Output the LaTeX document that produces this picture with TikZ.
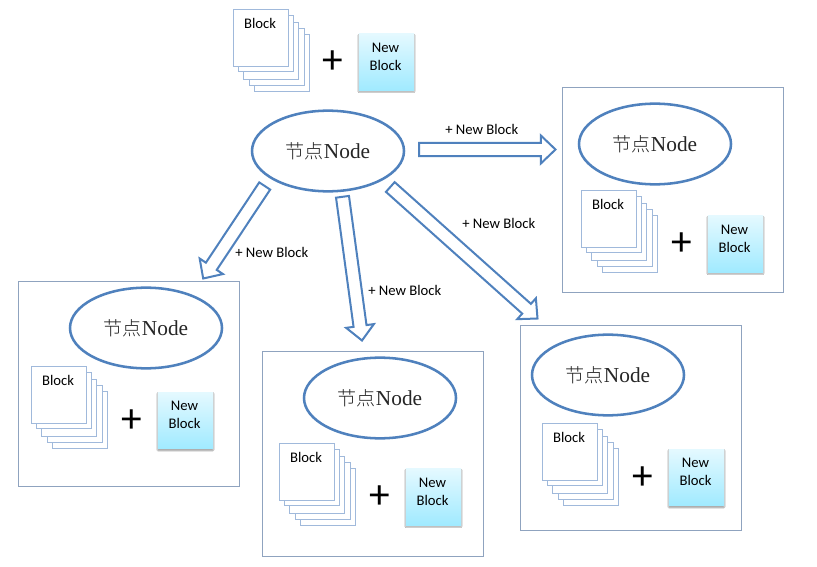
\documentclass[tikz,border=0pt]{standalone}
\usepackage{fontspec}
\setmainfont{Carlito}
\newfontfamily\nodecjk{Noto Sans CJK SC Light}
\newfontfamily\nodelatin{Liberation Serif}
\usetikzlibrary{calc,shadows.blur,shapes.geometric}
\definecolor{ringblue}{HTML}{4F81BD}
\definecolor{stackblue}{HTML}{A0B9DB}
\definecolor{framegray}{HTML}{8FA3BF}
\definecolor{newtop}{HTML}{E4F9FF}
\definecolor{newbot}{HTML}{A0EAFF}
\tikzset{
  x=0.75pt,y=-0.75pt,
  ringnode/.style={draw=ringblue,line width=1.9pt,ellipse,minimum width=114pt,minimum height=60.5pt,inner sep=0pt,text=black!85},
  sheet/.style={draw=stackblue,line width=0.75pt,fill=white,minimum width=41.5pt,minimum height=42.5pt,inner sep=0pt,anchor=north west},
  newbox/.style={minimum width=41.5pt,minimum height=42.5pt,inner sep=0pt,anchor=north west,top color=newtop,bottom color=newbot,draw=none,blur shadow={shadow xshift=0pt,shadow yshift=-0.9pt,shadow blur radius=0.7pt,shadow blur steps=4,shadow opacity=40}},
  newlabel/.style={align=center,inner sep=0pt,font=\fontsize{11}{13.5}\selectfont},
  blocklabel/.style={font=\fontsize{11}{13}\selectfont,inner sep=0pt},
  plusmark/.style={font=\fontsize{31}{31}\selectfont,inner sep=0pt},
  panel/.style={draw=framegray,line width=0.75pt,fill=white,minimum width=165.75pt,minimum height=153.75pt,inner sep=0pt,anchor=north west},
  hollowarrow/.style={draw=ringblue,line width=1.5pt,fill=white,line join=miter},
  arrowlabel/.style={font=\fontsize{11}{13}\selectfont,inner sep=0pt,anchor=west}
}
% #1 prefix, #2 x, #3 y, #4 dx and #5 dy of the plus and the new block
\newcommand{\stackgroup}[5]{%
  \node[sheet] (#1s4) at (#2+21,#3+25) {};
  \node[sheet] (#1s3) at (#2+15.6,#3+19.4) {};
  \node[sheet] (#1s2) at (#2+10,#3+13) {};
  \node[sheet] (#1s1) at (#2+5,#3+5.7) {};
  \node[sheet] (#1s0) at (#2,#3) {};
  \node[blocklabel] (#1bt) at (#2+27,#3+14) {Block};
  \node[plusmark] (#1plus) at (#2+100+#4,#3+53.5+#5) {+};
  \node[newbox] (#1new) at (#2+125.5+#4,#3+24.5+#5) {};
  \node[newlabel] (#1nt) at (#2+152.5+#4,#3+47.5+#5) {New\\Block};
}
\newcommand{\nodetext}{{\fontsize{14.3}{16}\selectfont\nodecjk 节点}{\fontsize{16}{16}\selectfont\nodelatin Node}}
% hollow block arrow from #1 to #2
\newcommand{\hollow}[2]{%
  \coordinate (hb) at ($(#2)!11pt!(#1)$);
  \draw[hollowarrow]
    ($(#1)!4.9pt!90:(#2)$) -- ($(hb)!4.9pt!-90:(#1)$) -- ($(hb)!10.5pt!-90:(#1)$) -- (#2)
    -- ($(hb)!10.5pt!90:(#1)$) -- ($(hb)!4.9pt!90:(#1)$) -- ($(#1)!4.9pt!-90:(#2)$) -- cycle;
}
\begin{document}
\begin{tikzpicture}
\useasboundingbox (0,0) rectangle (817,567);
\fill[white] (0,0) rectangle (817,567);

\node[panel] (pr) at (562,87) {};
\node[panel] (pl) at (18,281) {};
\node[panel] (pm) at (262,351) {};
\node[panel] (pd) at (520,325) {};

\stackgroup{t}{233}{9}{0}{0}
\stackgroup{r}{581}{190}{1}{1}
\stackgroup{l}{31}{366}{1}{1.5}
\stackgroup{m}{279}{443}{1}{1}
\stackgroup{d}{542}{423}{1}{1.5}

\node[ringnode] (main) at (328,151) {\nodetext};
\node[ringnode] (nr) at (655,144) {\nodetext};
\node[ringnode] (nl) at (146,328) {\nodetext};
\node[ringnode] (nm) at (380,398) {\nodetext};
\node[ringnode] (nd) at (608,375) {\nodetext};

\coordinate (a1s) at (419,149.5);
\coordinate (a1e) at (555.5,149.5);
\coordinate (a2s) at (264.7,186);
\coordinate (a2e) at (203.2,278.5);
\coordinate (a3s) at (342.5,196.8);
\coordinate (a3e) at (362,340.5);
\coordinate (a4s) at (390.3,187);
\coordinate (a4e) at (537.5,318.5);
\hollow{a1s}{a1e}
\hollow{a2s}{a2e}
\hollow{a3s}{a3e}
\hollow{a4s}{a4e}

\node[arrowlabel] (la1) at (445,129.5) {+ New Block};
\node[arrowlabel] (la2) at (235,252.5) {+ New Block};
\node[arrowlabel] (la3) at (368,290.5) {+ New Block};
\node[arrowlabel] (la4) at (462,223.5) {+ New Block};
\end{tikzpicture}
\end{document}
